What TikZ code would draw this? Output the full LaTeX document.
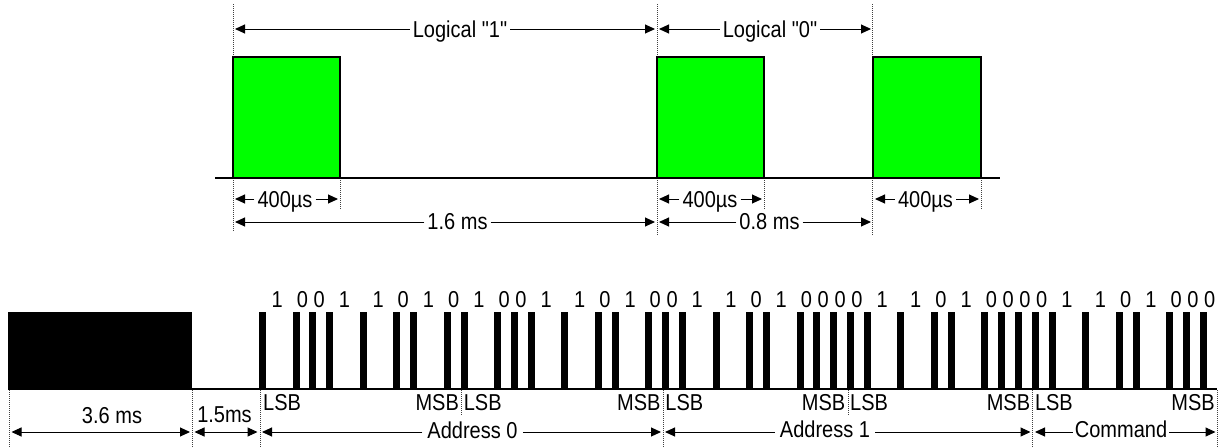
\documentclass[tikz,border=0pt]{standalone}
\usepackage{fontspec}
\newfontfamily\lblfont{Liberation Sans}[FakeStretch=0.87]
\usetikzlibrary{arrows.meta}
\definecolor{pgreen}{RGB}{0,255,0}
\tikzset{
  dotline/.style={draw=black!75, line width=1pt, dash pattern=on 1pt off 1pt},
  dimarrow/.style={line width=1pt, -{Triangle[length=10pt,width=9pt]}},
  dimboth/.style={line width=1pt, {Triangle[length=10pt,width=9pt]}-{Triangle[length=10pt,width=9pt]}},
  lbl/.style={font=\lblfont\fontsize{23}{25}\selectfont, inner xsep=3pt, inner ysep=0pt, anchor=base},
  gbox/.style={fill=pgreen, draw=black, line width=1.5pt},
  baseln/.style={line width=1.5pt},
  pulse/.style={fill=black, draw=none}
}
\begin{document}
\begin{tikzpicture}[x=1pt,y=-1pt]
\useasboundingbox[fill=white] (0,0) rectangle (1220,447);

% ================= TOP DIAGRAM =================
% dotted guides
\draw[dotline] (233,4) -- (233,231);
\draw[dotline] (657,4) -- (657,235);
\draw[dotline] (872.5,4) -- (872.5,235);
\draw[dotline] (340,178) -- (340,209);
\draw[dotline] (764,178) -- (764,209);
\draw[dotline] (981,178) -- (981,210);
% baseline and pulses
\draw[baseln] (215,178) -- (1000,178);
\draw[gbox] (233,57) rectangle (340,178);
\draw[gbox] (657,57) rectangle (764,178);
\draw[gbox] (873,57) rectangle (981,178);

% Logical "1"
\coordinate (l1a) at (235,29); \coordinate (l1b) at (655,29);
\node[lbl] (log1) at (460,37) {Logical "1"};
\draw[dimarrow] (log1.west |- l1a) -- (l1a);
\draw[dimarrow] (log1.east |- l1b) -- (l1b);
% Logical "0"
\coordinate (l0a) at (659,29); \coordinate (l0b) at (871,29);
\node[lbl] (log0) at (770,37) {Logical "0"};
\draw[dimarrow] (log0.west |- l0a) -- (l0a);
\draw[dimarrow] (log0.east |- l0b) -- (l0b);

% 400 us arrows
\coordinate (ua1) at (235,199); \coordinate (ub1) at (338,199);
\node[lbl] (us1) at (285,207) {400µs};
\draw[dimarrow] (us1.west |- ua1) -- (ua1);
\draw[dimarrow] (us1.east |- ub1) -- (ub1);
\coordinate (ua2) at (659,199); \coordinate (ub2) at (762,199);
\node[lbl] (us2) at (710,207) {400µs};
\draw[dimarrow] (us2.west |- ua2) -- (ua2);
\draw[dimarrow] (us2.east |- ub2) -- (ub2);
\coordinate (ua3) at (875,199); \coordinate (ub3) at (979,199);
\node[lbl] (us3) at (925.5,207) {400µs};
\draw[dimarrow] (us3.west |- ua3) -- (ua3);
\draw[dimarrow] (us3.east |- ub3) -- (ub3);

% 1.6 ms / 0.8 ms
\coordinate (ma1) at (235,222); \coordinate (mb1) at (655,222);
\node[lbl] (ms16) at (457.5,229) {1.6 ms};
\draw[dimarrow] (ms16.west |- ma1) -- (ma1);
\draw[dimarrow] (ms16.east |- mb1) -- (mb1);
\coordinate (ma2) at (659,222); \coordinate (mb2) at (871,222);
\node[lbl] (ms08) at (769.5,229) {0.8 ms};
\draw[dimarrow] (ms08.west |- ma2) -- (ma2);
\draw[dimarrow] (ms08.east |- mb2) -- (mb2);

% ================= BOTTOM DIAGRAM =================
% dividers
\foreach \dx in {9.3,192.3,260,663.2,1032.8,1217.6}
  \draw[dotline] (\dx,390) -- (\dx,447);
\foreach \dx in {461.6,848}
  \draw[dotline] (\dx,390) -- (\dx,416);

% lead pulse and baseline
\fill[pulse] (8,312) rectangle (192,389.75);
\draw[baseln] (192,389) -- (1217,389);

% data pulses and bit labels
\foreach \x/\b [count=\i] in {
  259.0/1, 292.6/0, 309.4/0, 326.2/1, 359.8/1, 393.4/0, 410.2/1, 443.8/0,
  460.6/1, 494.2/0, 511.0/0, 527.8/1, 561.4/1, 595.0/0, 611.8/1, 645.4/0,
  662.2/0, 679.0/1, 712.6/1, 746.2/0, 763.0/1, 796.6/0, 813.4/0, 830.2/0,
  847.0/0, 863.8/1, 897.4/1, 931.0/0, 947.8/1, 981.4/0, 998.2/0, 1015.0/0,
  1031.8/0, 1048.6/1, 1082.2/1, 1115.8/0, 1132.6/1, 1166.2/0, 1183.0/0, 1199.8/0}
{
  \fill[pulse] (\x,312) rectangle ({\x+7},389.75);
  \pgfmathsetmacro\lx{\x + 8.4*(1+\b) + 1.5}
  \node[lbl] (bit\i) at (\lx,307) {\b};
}

% LSB / MSB labels
\node[lbl, anchor=base west, inner xsep=0pt] (lsb0) at (263,410) {LSB};
\foreach \dx [count=\j] in {461.6,663.2,848,1032.8}{
  \node[lbl, anchor=base east, inner xsep=0pt] (msb\j) at ({\dx-2.5},410) {MSB};
  \node[lbl, anchor=base west, inner xsep=0pt] (lsb\j) at ({\dx+2},410) {LSB};
}
\node[lbl, anchor=base east, inner xsep=0pt] (msb5) at (1215,410) {MSB};

% 3.6 ms and 1.5 ms
\coordinate (h1a) at (11.5,432); \coordinate (h1b) at (190,432);
\draw[dimboth] (h1a) -- (h1b);
\node[lbl] (t36) at (112,423) {3.6 ms};
\coordinate (h2a) at (194.5,432); \coordinate (h2b) at (257.5,432);
\draw[dimboth] (h2a) -- (h2b);
\node[lbl] (t15) at (224.5,422) {1.5ms};

% Address 0
\coordinate (a0a) at (262,432); \coordinate (a0b) at (661,432);
\node[lbl, inner xsep=5pt] (addr0) at (472.5,438) {Address 0};
\draw[dimarrow] (addr0.west |- a0a) -- (a0a);
\draw[dimarrow] (addr0.east |- a0b) -- (a0b);
% Address 1
\coordinate (a1a) at (665,432); \coordinate (a1b) at (1030.5,432);
\node[lbl, inner xsep=5pt] (addr1) at (825,437) {Address 1};
\draw[dimarrow] (addr1.west |- a1a) -- (a1a);
\draw[dimarrow] (addr1.east |- a1b) -- (a1b);
% Command
\coordinate (cma) at (1035,432); \coordinate (cmb) at (1215.5,432);
\node[lbl, inner xsep=2pt] (cmd) at (1121,437) {Command};
\draw[dimarrow] (cmd.west |- cma) -- (cma);
\draw[dimarrow] (cmd.east |- cmb) -- (cmb);
\end{tikzpicture}
\end{document}
